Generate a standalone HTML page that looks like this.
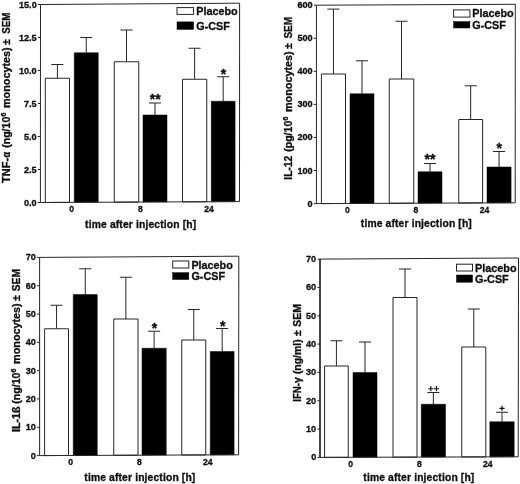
<!DOCTYPE html>
<html><head><meta charset="utf-8"><title>Cytokine release after G-CSF</title>
<style>html,body{margin:0;padding:0;background:#fff}svg{display:block}text{font-family:"Liberation Sans", sans-serif;font-weight:bold;fill:#111;stroke:#111;stroke-width:0.32px}</style></head><body>
<svg width="520" height="484" viewBox="0 0 520 484">
<defs><filter id="soft" x="0" y="0" width="520" height="484" filterUnits="userSpaceOnUse"><feGaussianBlur stdDeviation="0.5"/></filter></defs>
<rect x="0" y="0" width="520" height="484" fill="#ffffff"/>
<g filter="url(#soft)">
<g>
<path d="M57.40 78.25 V64.5 M51.40 64.5 H63.40" fill="none" stroke="#262626" stroke-width="1.0"/>
<path d="M86.25 52.75 V37.5 M80.25 37.5 H92.25" fill="none" stroke="#262626" stroke-width="1.0"/>
<path d="M126.50 61.75 V30 M120.50 30 H132.50" fill="none" stroke="#262626" stroke-width="1.0"/>
<path d="M155.00 115 V103 M149.00 103 H161.00" fill="none" stroke="#262626" stroke-width="1.0"/>
<path d="M194.62 79.25 V48.25 M188.62 48.25 H200.62" fill="none" stroke="#262626" stroke-width="1.0"/>
<path d="M223.18 101.25 V76.75 M217.18 76.75 H229.18" fill="none" stroke="#262626" stroke-width="1.0"/>
<polygon points="45.3,78.25 69.5,78.25 69.5,202.37 45.3,202.48" fill="#fff" stroke="#262626" stroke-width="1.0"/>
<polygon points="74.25,52.75 98.25,52.75 98.25,202.24 74.25,202.35" fill="#000" stroke="#000" stroke-width="0.5"/>
<polygon points="114.25,61.75 138.75,61.75 138.75,202.06 114.25,202.17" fill="#fff" stroke="#262626" stroke-width="1.0"/>
<polygon points="143,115 167,115 167,201.93 143,202.04" fill="#000" stroke="#000" stroke-width="0.5"/>
<polygon points="182.5,79.25 206.75,79.25 206.75,201.75 182.5,201.86" fill="#fff" stroke="#262626" stroke-width="1.0"/>
<polygon points="211.25,101.25 235.1,101.25 235.1,201.62 211.25,201.73" fill="#000" stroke="#000" stroke-width="0.5"/>
<polygon points="40.5,4.5 239.6,3.2 239.5,201.6 40.4,202.5" fill="none" stroke="#262626" stroke-width="1.0"/>
<line x1="37.80" y1="202.50" x2="40.40" y2="202.50" stroke="#262626" stroke-width="1.0"/>
<text x="36.60" y="205.50" font-size="9.1" text-anchor="end">0.0</text>
<line x1="37.82" y1="169.50" x2="40.42" y2="169.50" stroke="#262626" stroke-width="1.0"/>
<text x="36.62" y="172.50" font-size="9.1" text-anchor="end">2.5</text>
<line x1="37.83" y1="136.50" x2="40.43" y2="136.50" stroke="#262626" stroke-width="1.0"/>
<text x="36.63" y="139.50" font-size="9.1" text-anchor="end">5.0</text>
<line x1="37.85" y1="103.50" x2="40.45" y2="103.50" stroke="#262626" stroke-width="1.0"/>
<text x="36.65" y="106.50" font-size="9.1" text-anchor="end">7.5</text>
<line x1="37.87" y1="70.50" x2="40.47" y2="70.50" stroke="#262626" stroke-width="1.0"/>
<text x="36.67" y="73.50" font-size="9.1" text-anchor="end">10.0</text>
<line x1="37.88" y1="37.50" x2="40.48" y2="37.50" stroke="#262626" stroke-width="1.0"/>
<text x="36.68" y="40.50" font-size="9.1" text-anchor="end">12.5</text>
<line x1="37.90" y1="4.50" x2="40.50" y2="4.50" stroke="#262626" stroke-width="1.0"/>
<text x="36.70" y="7.50" font-size="9.1" text-anchor="end">15.0</text>
<text x="155.2" y="103.9" font-size="14" text-anchor="middle">**</text>
<text x="223.4" y="79.3" font-size="14" text-anchor="middle">*</text>
<text x="71.7" y="212.4" font-size="8.6" text-anchor="middle">0</text>
<text x="140.5" y="212.4" font-size="8.6" text-anchor="middle">8</text>
<text x="209" y="212.4" font-size="8.6" text-anchor="middle">24</text>
<text x="140.6" y="228" font-size="10.3" textLength="111" lengthAdjust="spacing" text-anchor="middle">time after injection [h]</text>
<text transform="translate(10.40 182.9) rotate(-90)" font-size="10.2" font-weight="bold" textLength="25.0" lengthAdjust="spacingAndGlyphs">TNF-</text>
<text transform="translate(10.40 157.6) rotate(-90)" font-size="10.2" font-weight="normal" textLength="5.7" lengthAdjust="spacingAndGlyphs">α</text>
<text transform="translate(10.40 147.8) rotate(-90)" font-size="10.2" font-weight="bold" textLength="31.1" lengthAdjust="spacingAndGlyphs">(ng/10</text>
<text transform="translate(6.20 116.5) rotate(-90)" font-size="7" font-weight="bold" textLength="3.9" lengthAdjust="spacingAndGlyphs">6</text>
<text transform="translate(10.40 108) rotate(-90)" font-size="10.2" font-weight="bold" textLength="60.6" lengthAdjust="spacingAndGlyphs">monocytes)</text>
<text transform="translate(10.40 44.8) rotate(-90)" font-size="10.2" font-weight="bold" textLength="5.6" lengthAdjust="spacingAndGlyphs">±</text>
<text transform="translate(10.40 33.8) rotate(-90)" font-size="10.2" font-weight="bold" textLength="21.1" lengthAdjust="spacingAndGlyphs">SEM</text>
<rect x="177" y="7.6" width="16.6" height="6.8" fill="#fff" stroke="#262626" stroke-width="1.0"/>
<rect x="177" y="21.9" width="16.6" height="7.5" fill="#000" stroke="#000" stroke-width="0.5"/>
<text x="196.3" y="14.8" font-size="10.8">Placebo</text>
<text x="196.3" y="29.8" font-size="10.8">G-CSF</text>
</g>
<g>
<path d="M333.45 74 V9.1 M327.45 9.1 H339.45" fill="none" stroke="#262626" stroke-width="1.0"/>
<path d="M362.00 93.75 V60.75 M356.00 60.75 H368.00" fill="none" stroke="#262626" stroke-width="1.0"/>
<path d="M401.50 79 V21.25 M395.50 21.25 H407.50" fill="none" stroke="#262626" stroke-width="1.0"/>
<path d="M430.00 171.75 V163.5 M424.00 163.5 H436.00" fill="none" stroke="#262626" stroke-width="1.0"/>
<path d="M470.68 119.5 V85.75 M464.68 85.75 H476.68" fill="none" stroke="#262626" stroke-width="1.0"/>
<path d="M499.05 167 V151.5 M493.05 151.5 H505.05" fill="none" stroke="#262626" stroke-width="1.0"/>
<polygon points="321.4,74 345.5,74 345.5,203.48 321.4,203.58" fill="#fff" stroke="#262626" stroke-width="1.0"/>
<polygon points="350,93.75 374,93.75 374,203.37 350,203.46" fill="#000" stroke="#000" stroke-width="0.5"/>
<polygon points="389.25,79 413.75,79 413.75,203.21 389.25,203.31" fill="#fff" stroke="#262626" stroke-width="1.0"/>
<polygon points="418,171.75 442,171.75 442,203.09 418,203.19" fill="#000" stroke="#000" stroke-width="0.5"/>
<polygon points="458.75,119.5 482.6,119.5 482.6,202.93 458.75,203.03" fill="#fff" stroke="#262626" stroke-width="1.0"/>
<polygon points="487,167 511.1,167 511.1,202.82 487,202.91" fill="#000" stroke="#000" stroke-width="0.5"/>
<polygon points="316.4,5.2 515.3,4.3 515.2,202.8 316.4,203.6" fill="none" stroke="#262626" stroke-width="1.0"/>
<line x1="313.80" y1="203.60" x2="316.40" y2="203.60" stroke="#262626" stroke-width="1.0"/>
<text x="312.60" y="206.60" font-size="9.1" text-anchor="end">0</text>
<line x1="313.80" y1="170.53" x2="316.40" y2="170.53" stroke="#262626" stroke-width="1.0"/>
<text x="312.60" y="173.53" font-size="9.1" text-anchor="end">100</text>
<line x1="313.80" y1="137.47" x2="316.40" y2="137.47" stroke="#262626" stroke-width="1.0"/>
<text x="312.60" y="140.47" font-size="9.1" text-anchor="end">200</text>
<line x1="313.80" y1="104.40" x2="316.40" y2="104.40" stroke="#262626" stroke-width="1.0"/>
<text x="312.60" y="107.40" font-size="9.1" text-anchor="end">300</text>
<line x1="313.80" y1="71.33" x2="316.40" y2="71.33" stroke="#262626" stroke-width="1.0"/>
<text x="312.60" y="74.33" font-size="9.1" text-anchor="end">400</text>
<line x1="313.80" y1="38.27" x2="316.40" y2="38.27" stroke="#262626" stroke-width="1.0"/>
<text x="312.60" y="41.27" font-size="9.1" text-anchor="end">500</text>
<line x1="313.80" y1="5.20" x2="316.40" y2="5.20" stroke="#262626" stroke-width="1.0"/>
<text x="312.60" y="8.20" font-size="9.1" text-anchor="end">600</text>
<text x="430" y="163.7" font-size="14" text-anchor="middle">**</text>
<text x="499.25" y="153.2" font-size="14" text-anchor="middle">*</text>
<text x="347.5" y="213" font-size="8.6" text-anchor="middle">0</text>
<text x="416" y="213" font-size="8.6" text-anchor="middle">8</text>
<text x="484.5" y="213" font-size="8.6" text-anchor="middle">24</text>
<text x="416.3" y="226.8" font-size="10.3" textLength="111" lengthAdjust="spacing" text-anchor="middle">time after injection [h]</text>
<text transform="translate(292.40 179.7) rotate(-90)" font-size="10.2" font-weight="bold" textLength="23.8" lengthAdjust="spacingAndGlyphs">IL-12</text>
<text transform="translate(292.40 151.8) rotate(-90)" font-size="10.2" font-weight="bold" textLength="31.1" lengthAdjust="spacingAndGlyphs">(pg/10</text>
<text transform="translate(288.20 120.5) rotate(-90)" font-size="7" font-weight="bold" textLength="3.9" lengthAdjust="spacingAndGlyphs">6</text>
<text transform="translate(292.40 112) rotate(-90)" font-size="10.2" font-weight="bold" textLength="60.6" lengthAdjust="spacingAndGlyphs">monocytes)</text>
<text transform="translate(292.40 48.7) rotate(-90)" font-size="10.2" font-weight="bold" textLength="5.6" lengthAdjust="spacingAndGlyphs">±</text>
<text transform="translate(292.40 38.6) rotate(-90)" font-size="10.2" font-weight="bold" textLength="21.7" lengthAdjust="spacingAndGlyphs">SEM</text>
<rect x="453.6" y="9.9" width="16.3" height="7.2" fill="#fff" stroke="#262626" stroke-width="1.0"/>
<rect x="453.6" y="21.6" width="16.3" height="6.4" fill="#000" stroke="#000" stroke-width="0.5"/>
<text x="472.3" y="17.2" font-size="10.8">Placebo</text>
<text x="472.3" y="28.8" font-size="10.8">G-CSF</text>
</g>
<g>
<path d="M56.55 328.75 V305.25 M50.55 305.25 H62.55" fill="none" stroke="#262626" stroke-width="1.0"/>
<path d="M85.25 294.5 V268.75 M79.25 268.75 H91.25" fill="none" stroke="#262626" stroke-width="1.0"/>
<path d="M125.88 319 V277.25 M119.88 277.25 H131.88" fill="none" stroke="#262626" stroke-width="1.0"/>
<path d="M154.12 348.25 V331.25 M148.12 331.25 H160.12" fill="none" stroke="#262626" stroke-width="1.0"/>
<path d="M193.75 340 V309.5 M187.75 309.5 H199.75" fill="none" stroke="#262626" stroke-width="1.0"/>
<path d="M222.18 351.5 V328.5 M216.18 328.5 H228.18" fill="none" stroke="#262626" stroke-width="1.0"/>
<polygon points="44.6,328.75 68.5,328.75 68.5,455.48 44.6,455.58" fill="#fff" stroke="#262626" stroke-width="1.0"/>
<polygon points="73.25,294.5 97.25,294.5 97.25,455.37 73.25,455.46" fill="#000" stroke="#000" stroke-width="0.5"/>
<polygon points="113.75,319 138,319 138,455.20 113.75,455.30" fill="#fff" stroke="#262626" stroke-width="1.0"/>
<polygon points="142,348.25 166.25,348.25 166.25,455.09 142,455.19" fill="#000" stroke="#000" stroke-width="0.5"/>
<polygon points="181.75,340 205.75,340 205.75,454.93 181.75,455.03" fill="#fff" stroke="#262626" stroke-width="1.0"/>
<polygon points="210.25,351.5 234.1,351.5 234.1,454.82 210.25,454.91" fill="#000" stroke="#000" stroke-width="0.5"/>
<polygon points="39.6,257.4 238.8,256.2 238.6,454.8 39.6,455.6" fill="none" stroke="#262626" stroke-width="1.0"/>
<line x1="37.00" y1="455.60" x2="39.60" y2="455.60" stroke="#262626" stroke-width="1.0"/>
<text x="35.80" y="458.60" font-size="9.1" text-anchor="end">0</text>
<line x1="37.00" y1="427.29" x2="39.60" y2="427.29" stroke="#262626" stroke-width="1.0"/>
<text x="35.80" y="430.29" font-size="9.1" text-anchor="end">10</text>
<line x1="37.00" y1="398.97" x2="39.60" y2="398.97" stroke="#262626" stroke-width="1.0"/>
<text x="35.80" y="401.97" font-size="9.1" text-anchor="end">20</text>
<line x1="37.00" y1="370.66" x2="39.60" y2="370.66" stroke="#262626" stroke-width="1.0"/>
<text x="35.80" y="373.66" font-size="9.1" text-anchor="end">30</text>
<line x1="37.00" y1="342.34" x2="39.60" y2="342.34" stroke="#262626" stroke-width="1.0"/>
<text x="35.80" y="345.34" font-size="9.1" text-anchor="end">40</text>
<line x1="37.00" y1="314.03" x2="39.60" y2="314.03" stroke="#262626" stroke-width="1.0"/>
<text x="35.80" y="317.03" font-size="9.1" text-anchor="end">50</text>
<line x1="37.00" y1="285.71" x2="39.60" y2="285.71" stroke="#262626" stroke-width="1.0"/>
<text x="35.80" y="288.71" font-size="9.1" text-anchor="end">60</text>
<line x1="37.00" y1="257.40" x2="39.60" y2="257.40" stroke="#262626" stroke-width="1.0"/>
<text x="35.80" y="260.40" font-size="9.1" text-anchor="end">70</text>
<text x="154.5" y="333.0" font-size="14" text-anchor="middle">*</text>
<text x="222.75" y="331.3" font-size="14" text-anchor="middle">*</text>
<text x="70.75" y="465" font-size="8.6" text-anchor="middle">0</text>
<text x="139.4" y="465" font-size="8.6" text-anchor="middle">8</text>
<text x="207.75" y="465" font-size="8.6" text-anchor="middle">24</text>
<text x="139.8" y="480.8" font-size="10.3" textLength="111" lengthAdjust="spacing" text-anchor="middle">time after injection [h]</text>
<text transform="translate(20.00 432) rotate(-90)" font-size="10.2" font-weight="bold" textLength="25.6" lengthAdjust="spacingAndGlyphs">IL-1ß</text>
<text transform="translate(20.00 403.7) rotate(-90)" font-size="10.2" font-weight="bold" textLength="31.1" lengthAdjust="spacingAndGlyphs">(ng/10</text>
<text transform="translate(15.80 372.4) rotate(-90)" font-size="7" font-weight="bold" textLength="3.9" lengthAdjust="spacingAndGlyphs">6</text>
<text transform="translate(20.00 363.9) rotate(-90)" font-size="10.2" font-weight="bold" textLength="60.6" lengthAdjust="spacingAndGlyphs">monocytes)</text>
<text transform="translate(20.00 300.8) rotate(-90)" font-size="10.2" font-weight="bold" textLength="5.6" lengthAdjust="spacingAndGlyphs">±</text>
<text transform="translate(20.00 291.3) rotate(-90)" font-size="10.2" font-weight="bold" textLength="22.3" lengthAdjust="spacingAndGlyphs">SEM</text>
<rect x="172.7" y="261.0" width="16.1" height="7.0" fill="#fff" stroke="#262626" stroke-width="1.0"/>
<rect x="172.7" y="272.7" width="16.1" height="6.8" fill="#000" stroke="#000" stroke-width="0.5"/>
<text x="191.4" y="268.5" font-size="10.8">Placebo</text>
<text x="191.4" y="280" font-size="10.8">G-CSF</text>
</g>
<g>
<path d="M336.43 366 V340.75 M330.43 340.75 H342.43" fill="none" stroke="#262626" stroke-width="1.0"/>
<path d="M365.00 372.5 V342 M359.00 342 H371.00" fill="none" stroke="#262626" stroke-width="1.0"/>
<path d="M405.00 297.5 V269 M399.00 269 H411.00" fill="none" stroke="#262626" stroke-width="1.0"/>
<path d="M433.38 404.25 V392.5 M427.38 392.5 H439.38" fill="none" stroke="#262626" stroke-width="1.0"/>
<path d="M473.77 347 V309 M467.77 309 H479.77" fill="none" stroke="#262626" stroke-width="1.0"/>
<path d="M502.00 421.75 V412.25 M496.00 412.25 H508.00" fill="none" stroke="#262626" stroke-width="1.0"/>
<polygon points="324.6,366 348.25,366 348.25,457.31 324.6,457.39" fill="#fff" stroke="#262626" stroke-width="1.0"/>
<polygon points="353,372.5 377,372.5 377,457.23 353,457.30" fill="#000" stroke="#000" stroke-width="0.5"/>
<polygon points="393,297.5 417,297.5 417,457.11 393,457.18" fill="#fff" stroke="#262626" stroke-width="1.0"/>
<polygon points="421.25,404.25 445.5,404.25 445.5,457.02 421.25,457.09" fill="#000" stroke="#000" stroke-width="0.5"/>
<polygon points="461.75,347 485.8,347 485.8,456.90 461.75,456.97" fill="#fff" stroke="#262626" stroke-width="1.0"/>
<polygon points="489.8,421.75 514.2,421.75 514.2,456.81 489.8,456.89" fill="#000" stroke="#000" stroke-width="0.5"/>
<polygon points="320.0,259.1 518.5,258.0 518.2,456.8 320.0,457.4" fill="none" stroke="#262626" stroke-width="1.0"/>
<line x1="320.0" y1="259.1" x2="320.0" y2="457.4" stroke="#262626" stroke-width="1.4"/>
<line x1="317.40" y1="457.40" x2="320.00" y2="457.40" stroke="#262626" stroke-width="1.0"/>
<text x="316.20" y="460.40" font-size="9.1" text-anchor="end">0</text>
<line x1="317.40" y1="429.07" x2="320.00" y2="429.07" stroke="#262626" stroke-width="1.0"/>
<text x="316.20" y="432.07" font-size="9.1" text-anchor="end">10</text>
<line x1="317.40" y1="400.74" x2="320.00" y2="400.74" stroke="#262626" stroke-width="1.0"/>
<text x="316.20" y="403.74" font-size="9.1" text-anchor="end">20</text>
<line x1="317.40" y1="372.41" x2="320.00" y2="372.41" stroke="#262626" stroke-width="1.0"/>
<text x="316.20" y="375.41" font-size="9.1" text-anchor="end">30</text>
<line x1="317.40" y1="344.09" x2="320.00" y2="344.09" stroke="#262626" stroke-width="1.0"/>
<text x="316.20" y="347.09" font-size="9.1" text-anchor="end">40</text>
<line x1="317.40" y1="315.76" x2="320.00" y2="315.76" stroke="#262626" stroke-width="1.0"/>
<text x="316.20" y="318.76" font-size="9.1" text-anchor="end">50</text>
<line x1="317.40" y1="287.43" x2="320.00" y2="287.43" stroke="#262626" stroke-width="1.0"/>
<text x="316.20" y="290.43" font-size="9.1" text-anchor="end">60</text>
<line x1="317.40" y1="259.10" x2="320.00" y2="259.10" stroke="#262626" stroke-width="1.0"/>
<text x="316.20" y="262.10" font-size="9.1" text-anchor="end">70</text>
<path d="M428.2 388.7 H433.40000000000003 M430.8 386.09999999999997 V391.3" fill="none" stroke="#111" stroke-width="1.15"/>
<path d="M433.9 388.7 H439.1 M436.5 386.09999999999997 V391.3" fill="none" stroke="#111" stroke-width="1.15"/>
<path d="M499.4 408.4 H504.6 M502 405.79999999999995 V411.0" fill="none" stroke="#111" stroke-width="1.15"/>
<text x="350.6" y="466.8" font-size="8.6" text-anchor="middle">0</text>
<text x="419.4" y="466.8" font-size="8.6" text-anchor="middle">8</text>
<text x="487.75" y="466.8" font-size="8.6" text-anchor="middle">24</text>
<text x="418.8" y="480.8" font-size="10.3" textLength="111" lengthAdjust="spacing" text-anchor="middle">time after injection [h]</text>
<text transform="translate(300.50 401.8) rotate(-90)" font-size="10.2" font-weight="bold" textLength="18.9" lengthAdjust="spacingAndGlyphs">IFN-</text>
<text transform="translate(300.50 382.9) rotate(-90)" font-size="10.2" font-weight="normal" textLength="5.8" lengthAdjust="spacingAndGlyphs">γ</text>
<text transform="translate(300.50 374.1) rotate(-90)" font-size="10.2" font-weight="bold" textLength="34.7" lengthAdjust="spacingAndGlyphs">(ng/ml)</text>
<text transform="translate(300.50 336.0) rotate(-90)" font-size="10.2" font-weight="bold" textLength="5.5" lengthAdjust="spacingAndGlyphs">±</text>
<text transform="translate(300.50 326.7) rotate(-90)" font-size="10.2" font-weight="bold" textLength="22.5" lengthAdjust="spacingAndGlyphs">SEM</text>
<rect x="456.5" y="264.2" width="16.0" height="6.8" fill="#fff" stroke="#262626" stroke-width="1.0"/>
<rect x="456.5" y="275.0" width="16.0" height="7.2" fill="#000" stroke="#000" stroke-width="0.5"/>
<text x="475.1" y="271.5" font-size="10.8">Placebo</text>
<text x="475.1" y="282.9" font-size="10.8">G-CSF</text>
</g>
</g>
</svg></body></html>
